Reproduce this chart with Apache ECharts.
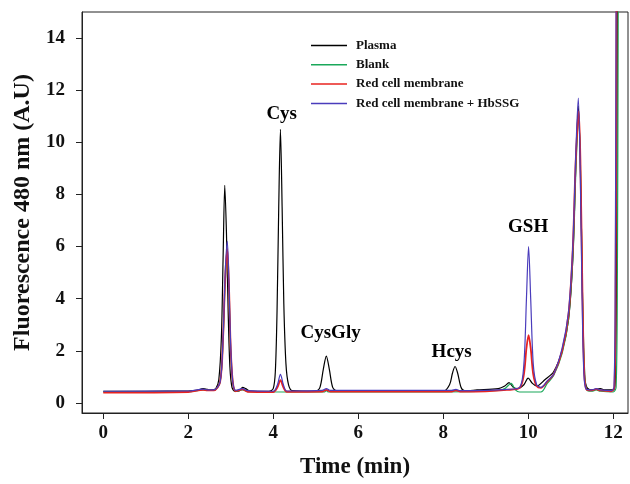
<!DOCTYPE html>
<html>
<head>
<meta charset="utf-8">
<script src="https://cdn.jsdelivr.net/npm/echarts@6/dist/echarts.min.js"></script>
<style>
  html, body { margin: 0; padding: 0; background: #fff; }
  #chart { width: 630px; height: 484px; }
</style>
</head>
<body>
<div id="chart"></div>
<script>
  // series names and colours
  const seriesNames = ['Plasma', 'Blank', 'Red cell membrane', 'Red cell membrane + HbSSG'];
  const seriesColors = ['#000000', '#1aa85a', '#e8231f', '#4a3cbc'];

  // tick values
  const xTicks = [0, 2, 4, 6, 8, 10, 12];
  const yTicks = [0, 2, 4, 6, 8, 10, 12, 14];

  // [time (min), fluorescence]
  const plasma = [
    [0, 0.45], [1, 0.45], [2, 0.46], [2.2, 0.48], [2.35, 0.55], [2.45, 0.52], [2.55, 0.5], [2.65, 0.55],
    [2.72, 0.9], [2.78, 2.5], [2.82, 5.5], [2.86, 8.35], [2.9, 6.5], [2.94, 3.5], [2.98, 1.4], [3.03, 0.6],
    [3.1, 0.45], [3.2, 0.46], [3.28, 0.6], [3.35, 0.55], [3.45, 0.46], [3.9, 0.45], [4.0, 0.55], [4.05, 1.2],
    [4.09, 3.5], [4.13, 7.5], [4.17, 10.5], [4.21, 7.5], [4.25, 3.8], [4.3, 1.5], [4.36, 0.7], [4.45, 0.47],
    [5.0, 0.45], [5.1, 0.6], [5.18, 1.3], [5.25, 1.8], [5.32, 1.3], [5.4, 0.6], [5.5, 0.46], [8.0, 0.45],
    [8.15, 0.7], [8.22, 1.15], [8.28, 1.4], [8.34, 1.15], [8.42, 0.6], [8.5, 0.47], [8.8, 0.5], [9.3, 0.55],
    [9.45, 0.65], [9.55, 0.78], [9.65, 0.6], [9.75, 0.55], [9.9, 0.7], [10.0, 0.95], [10.1, 0.75], [10.2, 0.65],
    [10.4, 0.9], [10.6, 1.2], [10.8, 2.0], [10.95, 3.2], [11.05, 5.5], [11.12, 9], [11.18, 11.4], [11.23, 9],
    [11.28, 4], [11.32, 1.2], [11.38, 0.6], [11.5, 0.5], [11.7, 0.55], [11.8, 0.5], [12.0, 0.5], [12.05, 0.8],
    [12.08, 5], [12.1, 15.5]
  ];

  const blank = [
    [0, 0.42], [2, 0.43], [2.35, 0.5], [2.45, 0.48], [2.6, 0.48], [2.75, 0.8], [2.82, 2.4], [2.87, 4.6],
    [2.92, 5.6], [2.96, 4.2], [3.0, 2.0], [3.05, 0.75], [3.12, 0.45], [3.28, 0.5], [3.4, 0.43], [5.2, 0.42],
    [5.25, 0.47], [5.3, 0.42], [8.0, 0.42], [9.3, 0.48], [9.45, 0.55], [9.6, 0.75], [9.7, 0.5], [9.8, 0.42],
    [10.3, 0.42], [10.45, 0.75], [10.6, 1.05], [10.8, 1.9], [10.95, 3.2], [11.06, 5.8], [11.13, 9.2],
    [11.19, 10.8], [11.23, 9.2], [11.28, 4], [11.33, 1.2], [11.38, 0.5], [11.5, 0.45], [11.6, 0.5], [11.7, 0.45],
    [12.0, 0.42], [12.07, 0.6], [12.1, 5], [12.12, 15.5]
  ];

  const redCell = [
    [0, 0.4], [2, 0.42], [2.35, 0.5], [2.45, 0.48], [2.6, 0.48], [2.75, 0.8], [2.82, 2.5], [2.87, 4.8],
    [2.92, 5.9], [2.96, 4.4], [3.0, 2.1], [3.05, 0.8], [3.12, 0.45], [3.28, 0.52], [3.4, 0.43], [4.0, 0.42],
    [4.1, 0.6], [4.17, 0.88], [4.24, 0.6], [4.32, 0.43], [5.15, 0.44], [5.25, 0.5], [5.35, 0.44], [8.2, 0.44],
    [8.3, 0.48], [8.4, 0.44], [9.0, 0.45], [9.5, 0.5], [9.8, 0.58], [9.9, 1.1], [9.96, 2.1], [10.01, 2.6],
    [10.06, 2.1], [10.12, 1.1], [10.2, 0.65], [10.3, 0.58], [10.45, 0.82], [10.6, 1.1], [10.8, 2.0],
    [10.95, 3.4], [11.05, 5.9], [11.12, 9.3], [11.19, 11.2], [11.23, 9.3], [11.28, 4], [11.32, 1.2],
    [11.37, 0.52], [11.5, 0.48], [11.6, 0.53], [11.7, 0.48], [11.95, 0.45], [12.03, 0.6], [12.06, 5], [12.08, 15.5]
  ];

  const redCellHbSSG = [
    [0, 0.45], [2, 0.46], [2.35, 0.53], [2.45, 0.5], [2.6, 0.5], [2.75, 0.8], [2.82, 2.5], [2.87, 5],
    [2.92, 6.2], [2.96, 4.5], [3.0, 2.2], [3.05, 0.8], [3.12, 0.48], [3.28, 0.55], [3.4, 0.47], [4.0, 0.45],
    [4.1, 0.7], [4.17, 1.1], [4.24, 0.7], [4.32, 0.46], [5.15, 0.48], [5.25, 0.55], [5.35, 0.48], [8.2, 0.48],
    [8.3, 0.52], [8.4, 0.47], [9.0, 0.48], [9.5, 0.52], [9.8, 0.6], [9.9, 1.5], [9.96, 4], [10.01, 6.0],
    [10.06, 4], [10.12, 1.5], [10.2, 0.7], [10.3, 0.6], [10.45, 0.85], [10.6, 1.1], [10.8, 2.1], [10.95, 3.5],
    [11.05, 6], [11.12, 9.5], [11.18, 11.7], [11.22, 9.5], [11.27, 4], [11.31, 1.2], [11.36, 0.55],
    [11.5, 0.5], [11.6, 0.55], [11.7, 0.5], [11.95, 0.47], [12.02, 0.6], [12.05, 5], [12.07, 15.5]
  ];

  // peak labels: [text, time, value]
  const peakLabels = [
    ['Cys', 4.2, 10.7],
    ['CysGly', 5.35, 2.3],
    ['Hcys', 8.2, 1.6],
    ['GSH', 10.0, 6.4]
  ];

  const FONT = '"Liberation Serif", "DejaVu Serif", serif';
  const seriesData = [plasma, blank, redCell, redCellHbSSG];

  const chart = echarts.init(document.getElementById('chart'));

  const series = seriesNames.map((name, i) => ({
    name: name,
    type: 'line',
    data: seriesData[i],
    symbol: 'none',
    smooth: 0.3,
    clip: true,
    lineStyle: { color: seriesColors[i], width: i === 2 ? 1.8 : 1.2 },
    itemStyle: { color: seriesColors[i] },
    z: 2 + i
  }));

  // peak names as text markers
  series.push({
    type: 'scatter',
    data: peakLabels.map(p => [p[1], p[2], p[0]]),
    symbolSize: 0,
    silent: true,
    itemStyle: { color: '#000', opacity: 1 },
    label: {
      show: true,
      position: 'top',
      distance: 0,
      formatter: p => p.data[2],
      fontFamily: FONT,
      fontWeight: 'bold',
      fontSize: 19,
      color: '#000',
      opacity: 1,
      textBorderWidth: 0
    },
    z: 10
  });

  const option = {
    animation: false,
    backgroundColor: '#fff',
    grid: { left: 82, right: 2, top: 12, bottom: 71, show: true, borderColor: '#222', borderWidth: 1 },
    legend: {
      data: seriesNames.map(n => ({ name: n, icon: 'rect' })),
      orient: 'vertical',
      left: 306,
      top: 34,
      itemWidth: 36,
      itemHeight: 1.5,
      itemGap: 6.3,
      textStyle: { fontFamily: FONT, fontWeight: 'bold', fontSize: 13, color: '#111', padding: [0, 0, 0, 4] }
    },
    xAxis: {
      type: 'value',
      min: -0.5,
      max: 12.35,
      name: 'Time (min)',
      nameLocation: 'middle',
      nameGap: 43,
      nameTextStyle: { fontFamily: FONT, fontWeight: 'bold', fontSize: 23, color: '#111' },
      axisLine: { onZero: false, lineStyle: { color: '#222' } },
      axisTick: { show: true, customValues: xTicks, length: 6, lineStyle: { color: '#222' } },
      axisLabel: {
        customValues: xTicks,
        fontFamily: FONT, fontWeight: 'bold', fontSize: 19, color: '#111', margin: 11
      },
      splitLine: { show: false }
    },
    yAxis: {
      type: 'value',
      min: -0.385,
      max: 15,
      name: 'Fluorescence 480 nm (A.U)',
      nameLocation: 'middle',
      nameGap: 47,
      nameTextStyle: { fontFamily: FONT, fontWeight: 'bold', fontSize: 24, color: '#111' },
      axisLine: { show: true, onZero: false, lineStyle: { color: '#222' } },
      axisTick: { show: true, customValues: yTicks, length: 6, lineStyle: { color: '#222' } },
      axisLabel: {
        customValues: yTicks,
        fontFamily: FONT, fontWeight: 'bold', fontSize: 19, color: '#111', margin: 17
      },
      splitLine: { show: false }
    },
    series: series
  };

  chart.setOption(option);
</script>
</body>
</html>
